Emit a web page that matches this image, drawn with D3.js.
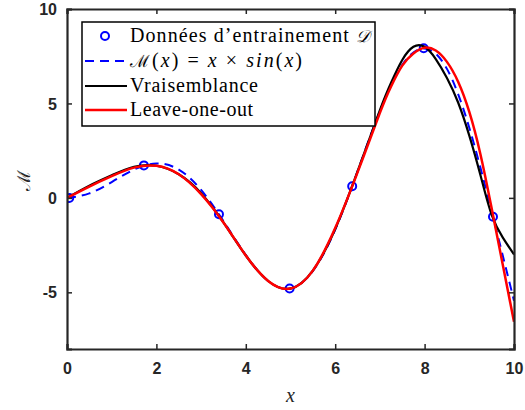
<!DOCTYPE html>
<html><head><meta charset="utf-8">
<script src="https://cdn.jsdelivr.net/npm/d3@7"></script>
<style>body{margin:0;background:#fff}svg{display:block}</style>
</head><body>
<script>
// ---- data ----
const xTicks = [0, 2, 4, 6, 8, 10];
const yTicks = [-5, 0, 5, 10];
const ptX = [0.05, 1.72, 3.40, 4.98, 6.38, 7.98, 9.53];
const ptY = [0.0, 1.72, -0.87, -4.80, 0.62, 7.92, -1.0];
const trueX = [0,0.5,1,1.5,2,2.5,3,3.5,4,4.5,5,5.5,6,6.5,7,7.5,8,8.5,9,9.5,10];
const trueY = [0,0.24,0.84,1.50,1.82,1.50,0.42,-1.23,-3.03,-4.40,-4.79,-3.87,-1.68,1.40,4.60,7.04,7.91,6.83,3.71,-0.71,-5.44];
const fitX = [0,0.5,1,1.5,2,2.5,3,3.5,4,4.5,5,5.5,6,6.5,7,7.25,7.5,7.75,8,8.25,8.5,8.75,9,9.25,9.5,9.75,10];
const vraisY = [0,0.65,1.2,1.65,1.7,1.25,0.25,-1.3,-3.05,-4.4,-4.8,-3.85,-1.65,1.4,4.65,6.1,7.3,8.0,8.0,7.35,6.35,5.05,3.3,1.2,-0.9,-2.1,-3.0];
const looY = [0,0.6,1.15,1.6,1.7,1.25,0.2,-1.3,-3.05,-4.4,-4.8,-3.85,-1.6,1.35,4.5,5.9,7.0,7.65,7.95,7.8,7.2,6.15,4.55,2.3,-0.55,-3.55,-6.56];
const legendLabels = ["Données d\u2019entrainement ", "", "Vraisemblance", "Leave-one-out"];

const W = 525, H = 410;
const m = {l: 67, r: 514, t: 9, b: 349};
const svg = d3.select("body").append("svg").attr("width", W).attr("height", H);
const x = d3.scaleLinear().domain([0, 10]).range([m.l, m.r]);
const y = d3.scaleLinear().domain([-8, 10]).range([m.b, m.t]);

svg.append("clipPath").attr("id", "clip").append("rect")
  .attr("x", m.l).attr("y", m.t).attr("width", m.r - m.l).attr("height", m.b - m.t);

const g = svg.append("g").attr("clip-path", "url(#clip)");
const line = d3.line().x(d => x(d[0])).y(d => y(d[1])).curve(d3.curveNatural);

// points
g.selectAll("circle.pt").data(ptX.map((v, i) => [v, ptY[i]])).join("circle")
  .attr("cx", d => x(d[0])).attr("cy", d => y(d[1])).attr("r", 4)
  .attr("fill", "none").attr("stroke", "#0000ff").attr("stroke-width", 2);
g.append("path").attr("d", line(trueX.map((v, i) => [v, trueY[i]])))
  .attr("fill", "none").attr("stroke", "#0000ff").attr("stroke-width", 2).attr("stroke-dasharray", "9,6");
g.append("path").attr("d", line(fitX.map((v, i) => [v, vraisY[i]])))
  .attr("fill", "none").attr("stroke", "#000").attr("stroke-width", 2.2);
g.append("path").attr("d", line(fitX.map((v, i) => [v, looY[i]])))
  .attr("fill", "none").attr("stroke", "#ff0000").attr("stroke-width", 2.5);

// axes
const axCol = "#262626";
const fmt = d => d3.format("d")(d).replace("\u2212", "-");
const xa = svg.append("g").attr("transform", `translate(0,${m.b})`)
  .call(d3.axisBottom(x).tickValues(xTicks).tickSize(-5).tickPadding(14).tickFormat(fmt));
const xt = svg.append("g").attr("transform", `translate(0,${m.t})`)
  .call(d3.axisTop(x).tickValues(xTicks).tickSize(-5).tickFormat(""));
const ya = svg.append("g").attr("transform", `translate(${m.l},0)`)
  .call(d3.axisLeft(y).tickValues(yTicks).tickSize(-5).tickPadding(10).tickFormat(fmt));
const yr = svg.append("g").attr("transform", `translate(${m.r},0)`)
  .call(d3.axisRight(y).tickValues(yTicks).tickSize(-5).tickFormat(""));
[xa, xt, ya, yr].forEach(a => {
  a.select(".domain").attr("stroke", axCol).attr("stroke-width", 2.2);
  a.selectAll(".tick line").attr("stroke", axCol).attr("stroke-width", 1.5);
  a.selectAll("text").attr("fill", axCol).attr("font-family", "'Liberation Sans', Arial, sans-serif")
    .attr("font-weight", "bold").attr("font-size", 16);
});
ya.selectAll("text").attr("dy", "0.35em");

// axis labels
svg.append("text").attr("x", (m.l + m.r) / 2).attr("y", 402).attr("text-anchor", "middle")
  .attr("font-family", "'Liberation Serif', serif").attr("font-style", "italic").attr("font-size", 20)
  .attr("fill", axCol).text("x");
svg.append("text").attr("transform", `translate(30,180) rotate(-90)`).attr("text-anchor", "middle")
  .attr("font-family", "'DejaVu Serif', 'Liberation Serif', serif").attr("font-size", 18)
  .attr("fill", axCol).text("\u2133");

// legend
const lg = svg.append("g");
lg.append("rect").attr("x", 82).attr("y", 22).attr("width", 293).attr("height", 104)
  .attr("fill", "#fff").attr("stroke", "#000").attr("stroke-width", 1.5);
const rows = [36, 61, 86, 110];
const widths = [240, 172, 128, 123];
const tx = 130;
const ff = "'Liberation Serif', serif";
lg.append("circle").attr("cx", 105).attr("cy", rows[0]).attr("r", 4)
  .attr("fill", "none").attr("stroke", "#0000ff").attr("stroke-width", 2);
lg.append("line").attr("x1", 85).attr("x2", 127).attr("y1", rows[1]).attr("y2", rows[1])
  .attr("stroke", "#0000ff").attr("stroke-width", 2).attr("stroke-dasharray", "9,6");
lg.append("line").attr("x1", 85).attr("x2", 127).attr("y1", rows[2]).attr("y2", rows[2])
  .attr("stroke", "#000").attr("stroke-width", 2);
lg.append("line").attr("x1", 85).attr("x2", 127).attr("y1", rows[3]).attr("y2", rows[3])
  .attr("stroke", "#ff0000").attr("stroke-width", 2.5);

const mkText = i => lg.append("text").attr("x", tx).attr("y", rows[i] + 6).attr("font-family", ff)
  .attr("font-size", 20).attr("fill", "#000")
  .attr("textLength", widths[i]).attr("lengthAdjust", "spacing");
const t0 = mkText(0);
t0.append("tspan").text(legendLabels[0]);
t0.append("tspan").attr("font-style", "italic").attr("font-family", "'DejaVu Serif', serif").attr("font-size", 17).text("\uD835\uDC9F");

const t1 = mkText(1);
t1.append("tspan").attr("font-family", "'DejaVu Serif', serif").attr("font-size", 17).text("\u2133");
t1.append("tspan").text("(");
t1.append("tspan").attr("font-style", "italic").text("x");
t1.append("tspan").text(") = ");
t1.append("tspan").attr("font-style", "italic").text("x");
t1.append("tspan").text(" \u00D7 ");
t1.append("tspan").attr("font-style", "italic").text("sin");
t1.append("tspan").text("(");
t1.append("tspan").attr("font-style", "italic").text("x");
t1.append("tspan").text(")");

mkText(2).text(legendLabels[2]);
mkText(3).text(legendLabels[3]);
</script>
</body></html>
